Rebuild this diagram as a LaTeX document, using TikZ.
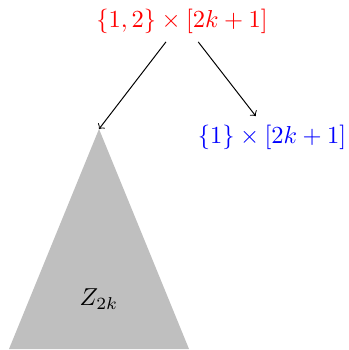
\documentclass[tikz,border=0pt]{standalone}
\begin{document}
\begin{tikzpicture}[x=0.01434cm,y=-0.01434cm,
  lbl/.style={inner sep=0.333em},
  arr/.style={->,line width=0.4pt}]
\useasboundingbox (0,0) rectangle (348,350);
\fill[lightgray] (9,349) -- (99,129) -- (189,349) -- cycle;
\coordinate (apex) at (99,129);
\node[lbl,text=red] (top) at (182,21) {$\{1,2\}\times[2k+1]$};
\node[lbl,text=blue] (right) at (272,137) {$\{1\}\times[2k+1]$};
\node (z) at (99,299) {$Z_{2k}$};
\draw[arr] (top) -- (apex);
\draw[arr] (top) -- (right);
\end{tikzpicture}
\end{document}
